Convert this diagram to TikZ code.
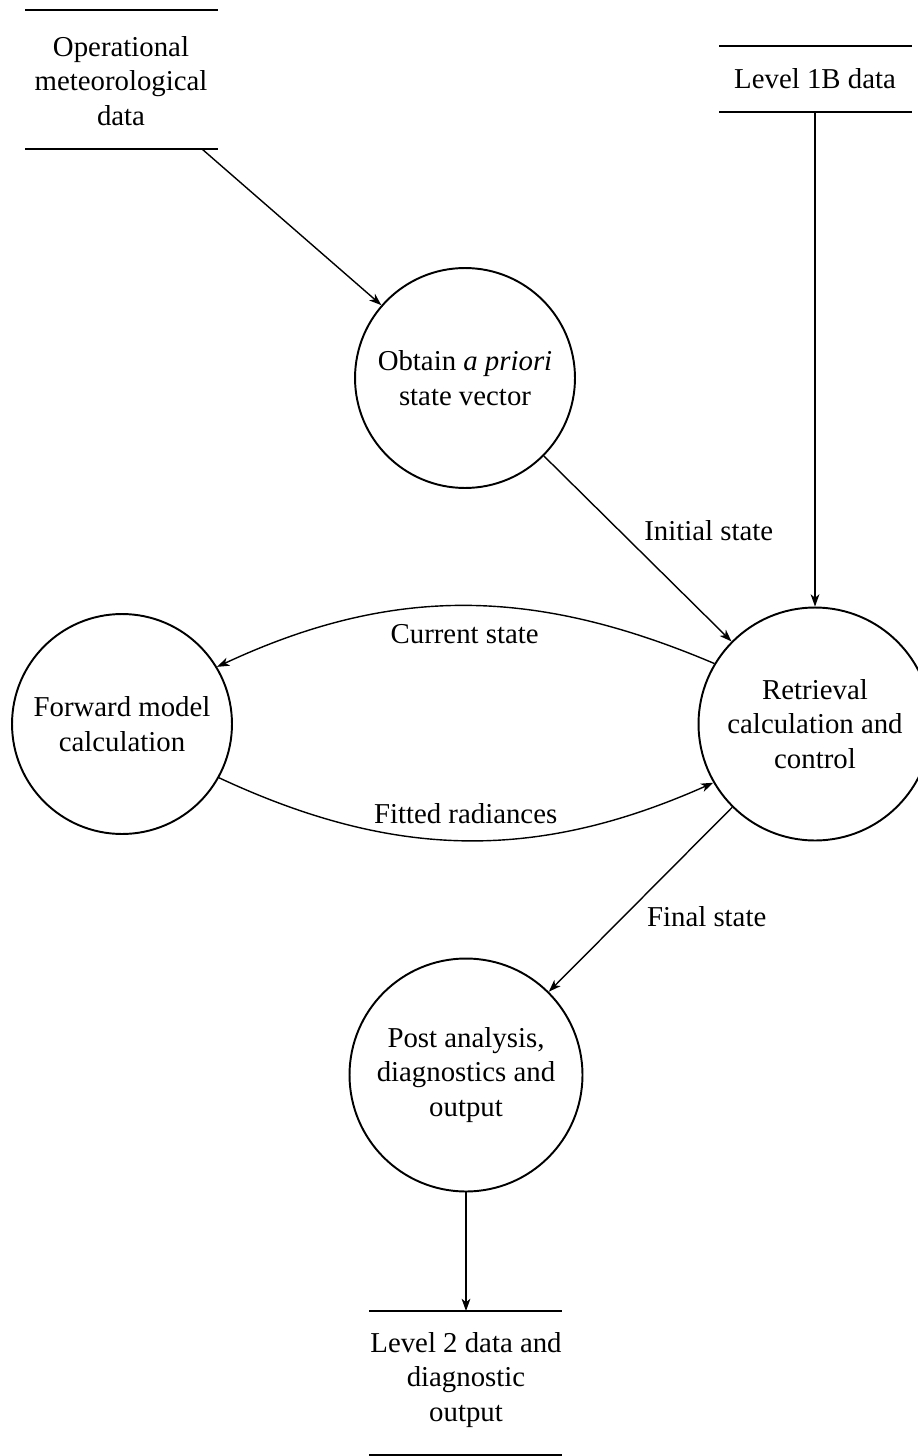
\documentclass[tikz,border=0pt]{standalone}
\usepackage{fontspec}
\setmainfont{Liberation Serif}
\usetikzlibrary{arrows.meta}

\begin{document}
\begin{tikzpicture}[x=0.02cm, y=-0.02cm,
    font=\fontsize{16.4}{19.8}\selectfont,
    process/.style={circle, draw, line width=1.1pt, inner sep=0pt, align=center, minimum size=4.4cm},
    bigprocess/.style={process, minimum size=4.66cm},
    store/.style={inner sep=0pt, align=center},
    storeline/.style={line width=1.1pt},
    flow/.style={-{Stealth[length=7pt, width=5pt, inset=2pt]}, line width=0.8pt}]
  \useasboundingbox (0,0) rectangle (918,1456);
  % Nodes
  \node[store] (opmet) at (121,81) {Operational\\meteorological\\data};
  \node[store] (l1b) at (815,79) {Level 1B data};
  \node[process] (obtain) at (465,378) {Obtain \textit{a priori}\\state vector};
  \node[process] (fwd) at (122,724) {Forward model\\calculation};
  \node[bigprocess] (ret) at (815,724) {Retrieval\\calculation and\\control};
  \node[bigprocess] (post) at (466,1075) {Post analysis,\\diagnostics and\\output};
  \node[store] (l2) at (466,1380) {Level 2 data and\\diagnostic\\output};
  % Store lines
  \draw[storeline] (25,10) -- (218,10) (25,149) -- (218,149);
  \draw[storeline] (719,46) -- (912,46) (719,112) -- (912,112);
  \draw[storeline] (369,1311) -- (562,1311) (369,1455) -- (562,1455);
  \coordinate (opout) at (202,149);
  \coordinate (l1bout) at (815,112);
  \coordinate (l2in) at (466,1311);
  % Edges
  \draw[flow] (opout) -- (obtain);
  \draw[flow] (l1bout) -- (ret);
  \draw[flow] (obtain) -- node[midway, anchor=south west, yshift=1pt] {Initial state} (ret);
  \draw[flow] (ret.149) to[out=157, in=25] node[midway, below=7pt] {Current state} (fwd.31);
  \draw[flow] (fwd.-29) to[out=-25, in=204] node[midway, above=6pt] {Fitted radiances} (ret.210);
  \draw[flow] (ret) -- node[midway, anchor=north west] {Final state} (post);
  \draw[flow] (post) -- (l2in);
\end{tikzpicture}
\end{document}
